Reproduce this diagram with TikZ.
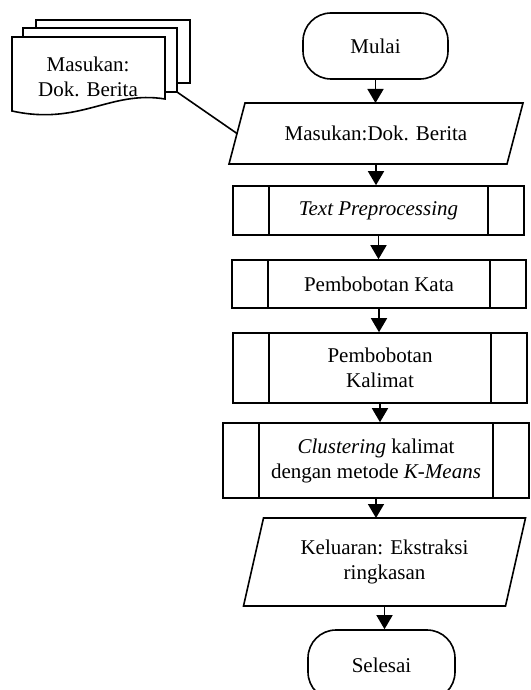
\documentclass[tikz,border=0pt]{standalone}
\usepackage{fontspec}
\setmainfont{Liberation Serif}
\usetikzlibrary{arrows.meta}

\tikzset{
  terminal/.style={draw, rounded corners=28pt, minimum width=145pt, minimum height=66pt},
  proses/.style={draw, align=center,
    path picture={\draw[line width=1.6pt]
      ([xshift=36pt]path picture bounding box.north west) -- ([xshift=36pt]path picture bounding box.south west)
      ([xshift=-36pt]path picture bounding box.north east) -- ([xshift=-36pt]path picture bounding box.south east);}},
  io/.style={align=center, outer sep=0pt,
    append after command={\pgfextra{\draw ([xshift=#1]\tikzlastnode.north west) -- ([xshift=#1]\tikzlastnode.north east)
      -- ([xshift=-#1]\tikzlastnode.south east) -- ([xshift=-#1]\tikzlastnode.south west) -- cycle;}}},
  panah/.style={-{Triangle[width=16pt,length=14pt]}},
}

\begin{document}
\begin{tikzpicture}[x=1pt, y=-1pt, line width=1.6pt, font=\fontsize{21}{25}\selectfont]
\useasboundingbox (0,0) rectangle (530,690);
% tumpukan dokumen
\draw[fill=white] (36,20) rectangle (190,83);
\draw[fill=white] (23,28) rectangle (177,92);
\draw[fill=white] (12,111) -- (12,37) -- (165,37) -- (165,99) .. controls (110,90) and (80,126) .. (12,111) -- cycle;
\node (dok) at (88,77) [align=center] {Masukan:\\Dok. Berita};
\coordinate (dokpojok) at (177,92);

% alur utama
\node (mulai) at (375.5,46) [terminal] {Mulai};
\node (masuk) at (376,133.5) [io=8pt, minimum width=278pt, minimum height=61pt] {Masukan:Dok. Berita};
\node (prep) at (378.5,210.5) [proses, minimum width=291pt, minimum height=49pt] {\textit{Text Preprocessing}};
\node (kata) at (379,284) [proses, minimum width=294pt, minimum height=48pt] {Pembobotan Kata};
\node (kalimat) at (380,368) [proses, minimum width=294pt, minimum height=70pt] {Pembobotan\\Kalimat};
\node (klaster) at (376,460.5) [proses, minimum width=306pt, minimum height=75pt] {\textit{Clustering} kalimat\\dengan metode \textit{K-Means}};
\node (keluar) at (384.5,562) [io=10pt, minimum width=262pt, minimum height=88pt] {Keluaran: Ekstraksi\\ringkasan};
\node (selesai) at (381.5,665) [terminal, minimum width=147pt, minimum height=70pt] {Selesai};

\draw (dokpojok) -- (masuk.west);
\draw[panah] (mulai.south) -- (mulai.south |- masuk.north);
\draw[panah] (masuk.south) -- (masuk.south |- prep.north);
\draw[panah] (prep.south) -- (prep.south |- kata.north);
\draw[panah] (kata.south) -- (kata.south |- kalimat.north);
\draw[panah] (kalimat.south) -- (kalimat.south |- klaster.north);
\draw[panah] (klaster.south) -- (klaster.south |- keluar.north);
\draw[panah] (keluar.south) -- (keluar.south |- selesai.north);
\end{tikzpicture}
\end{document}
